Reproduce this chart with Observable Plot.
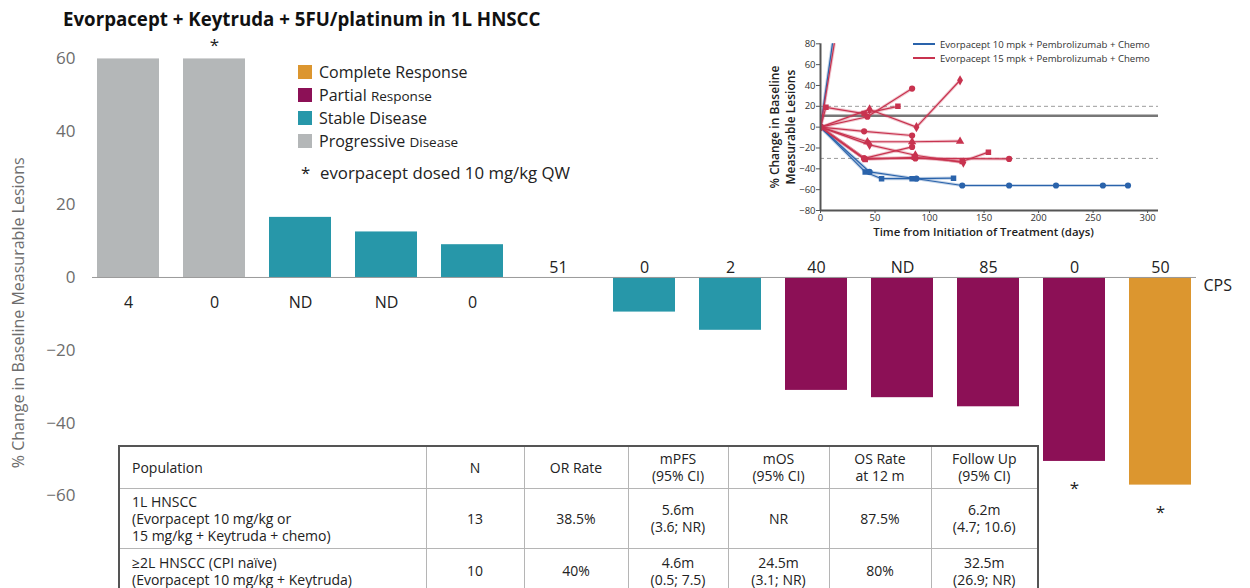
<!DOCTYPE html>
<html><head><meta charset="utf-8">
<script src="https://cdn.jsdelivr.net/npm/d3@7"></script>
<script src="https://cdn.jsdelivr.net/npm/@observablehq/plot@0.6"></script>
<style>
body{margin:0;background:#fff;}
#wrap{position:relative;width:1250px;height:588px;overflow:hidden;font-family:"Open Sans",sans-serif;background:#fff;}
#main{position:absolute;left:0;top:0;}
#title{position:absolute;left:63px;top:6px;font-weight:bold;font-size:18.7px;color:#111;white-space:nowrap;line-height:26px;}
.leg{position:absolute;left:298px;height:20px;display:flex;align-items:center;font-size:16px;color:#222;white-space:nowrap;}
.leg .sw{width:14px;height:14px;margin-right:7px;}
.leg small{font-size:13.5px;}
#inset{position:absolute;left:760px;top:30px;}
.ileg{position:absolute;left:913px;height:14px;display:flex;align-items:center;font-size:9.6px;color:#333;white-space:nowrap;}
.ileg .ln{width:22px;height:2px;margin-right:5px;}
#tbl{position:absolute;left:118px;top:445px;border-collapse:collapse;border:2px solid #555;background:#fff;
 font-family:"Open Sans",sans-serif;font-size:14px;color:#222;table-layout:fixed;width:919px;}
#tbl td{border:1px solid #b5b5b5;text-align:center;vertical-align:middle;padding:0;line-height:17px;}
#tbl td.pop{text-align:left;padding-left:12px;}
</style></head><body><div id="wrap"></div>
<script>
// ---- main waterfall data ----
const change   = [60, 60, 16.5, 12.5, 9, 0, -9.5, -14.5, -31, -33, -35.5, -50.5, -57];
const response = ["PD","PD","SD","SD","SD","SD","SD","SD","PR","PR","PR","PR","CR"];
const cps      = ["4","0","ND","ND","0","51","0","2","40","ND","85","0","50"];
const qw       = [false,true,false,false,false,false,false,false,false,false,false,true,true];
const yTicks   = [-60,-40,-20,0,20,40,60];
const respCodes  = ["CR","PR","SD","PD"];
const respMain   = ["Complete Response","Partial","Stable Disease","Progressive"];
const respSmall  = ["","Response","","Disease"];
const respColors = ["#dc962f","#8c1056","#2797a9","#b4b7b8"];

// ---- inset spider data: [day, % change] ----
const dose10Lines = [
  {sym:"square", pts:[[0,0],[41,-43],[56,-49.5],[84,-49.5],[122,-49]]},
  {sym:"circle", pts:[[0,0],[45,-43],[88,-49.5],[130,-56],[173,-56],[216,-56],[259,-56],[282,-56]]},
  {sym:"circle", pts:[[0,0],[13,95]]}
];
const dose15Lines = [
  {sym:"square",   pts:[[0,0],[5,19],[40,13],[71,20]]},
  {sym:"circle",   pts:[[0,0],[43,10],[84,37]]},
  {sym:"diamond",  pts:[[0,0],[45,17],[88,0],[128,45]]},
  {sym:"circle",   pts:[[0,0],[40,-4],[84,-8]]},
  {sym:"triangle", pts:[[0,0],[43,-14],[84,-14],[128,-13.5]]},
  {sym:"diamond",  pts:[[0,0],[45,-17],[87,-27],[131,-34]]},
  {sym:"circle",   pts:[[0,0],[40,-30],[84,-19]]},
  {sym:"circle",   pts:[[0,0],[40,-30],[87,-30],[173,-30.5]]},
  {sym:"square",   pts:[[0,0],[41,-31],[86,-29],[130,-33],[154,-24]]},
  {sym:"circle",   pts:[[0,0],[15,95]]}
];
const doseNames  = ["Evorpacept 10 mpk + Pembrolizumab + Chemo","Evorpacept 15 mpk + Pembrolizumab + Chemo"];
const doseColors = ["#2a63ab","#c8334f"];
const insetXTicks = [0,50,100,150,200,250,300];
const insetYTicks = [-80,-60,-40,-20,0,20,40,60,80];
const refSolid = [11];
const refDashed = [20,-30];

// ---- table ----
const tableHead = ["Population","N","OR Rate","mPFS\n(95% CI)","mOS\n(95% CI)","OS Rate\nat 12 m","Follow Up\n(95% CI)"];
const tableRows = [
  ["1L HNSCC\n(Evorpacept 10 mg/kg or\n15 mg/kg + Keytruda + chemo)","13","38.5%","5.6m\n(3.6; NR)","NR","87.5%","6.2m\n(4.7; 10.6)"],
  ["≥2L HNSCC (CPI naïve)\n(Evorpacept 10 mg/kg + Keytruda)","10","40%","4.6m\n(0.5; 7.5)","24.5m\n(3.1; NR)","80%","32.5m\n(26.9; NR)"]
];
const colWidths = [307,98,104,100,101,102,107];
const rowHeights = [42,60,46];

const wrap = document.getElementById("wrap");
const colorOf = r => respColors[respCodes.indexOf(r)];
const rows = change.map((v,i)=>({i, v, r:response[i], cps:cps[i], qw:qw[i]}));

const main = Plot.plot({
  width:1250, height:588, marginLeft:72, marginRight:34, marginTop:22, marginBottom:1.4,
  style:{fontFamily:"Open Sans, sans-serif", fontSize:"17px", background:"transparent"},
  x:{type:"band", domain:d3.range(change.length), padding:0.28, axis:null},
  y:{domain:[-85,70], axis:null},
  marks:[
    Plot.axisY({ticks:yTicks, tickSize:0, tickPadding:0, dx:3, fill:"#6d6d6d", fontSize:17, label:null}),
    Plot.barY(rows,{x:"i", y:"v", fill:d=>colorOf(d.r)}),
    Plot.ruleY([0],{insetLeft:20, insetRight:20, stroke:"#9a9a9a", strokeWidth:1}),
    Plot.text(rows.filter(d=>d.v>0),{x:"i", y:()=>0, text:"cps", dy:25, fontSize:16, fill:"#222"}),
    Plot.text(rows.filter(d=>d.v<=0),{x:"i", y:()=>0, text:"cps", dy:-10, fontSize:16, fill:"#222"}),
    Plot.text(rows.filter(d=>d.qw && d.v>0),{x:"i", y:"v", text:()=>"*", dy:-13, fontSize:17, fill:"#222"}),
    Plot.text(rows.filter(d=>d.qw && d.v<0),{x:"i", y:"v", text:()=>"*", dy:27, fontSize:17, fill:"#222"}),
    Plot.text(["CPS"],{frameAnchor:"right", y:()=>0, dx:-13, dy:8, textAnchor:"start", fontSize:16, fill:"#222"}),
    Plot.text(["% Change in Baseline Measurable Lesions"],{frameAnchor:"left", textAnchor:"middle", lineAnchor:"middle",
      rotate:-90, dx:-54, dy:8, fontSize:16, fill:"#6d6d6d"})
  ]
});
main.id = "main";
wrap.appendChild(main);

// title
const title = document.createElement("div");
title.id = "title";
title.textContent = "Evorpacept + Keytruda + 5FU/platinum in 1L HNSCC";
wrap.appendChild(title);

// legend
const legTops = [62,85,108,131];
respCodes.forEach((c,k)=>{
  const d = document.createElement("div");
  d.className = "leg";
  d.style.top = legTops[k]+"px";
  d.innerHTML = `<div class="sw" style="background:${respColors[k]}"></div><span>${respMain[k]}${respSmall[k]?' <small>'+respSmall[k]+'</small>':''}</span>`;
  wrap.appendChild(d);
});
const note = document.createElement("div");
note.className = "leg";
note.style.top = "162px";
note.style.left = "301px";
note.style.fontSize = "16.8px";
note.innerHTML = `<span style="width:19px">*</span><span>evorpacept dosed 10 mg/kg QW</span>`;
wrap.appendChild(note);

// inset
const insetData = [];
[dose10Lines, dose15Lines].forEach((set,g)=>set.forEach((s,k)=>s.pts.forEach(([day,val])=>
  insetData.push({id:g+"-"+k, g, sym:s.sym, day, val, c:doseColors[g]}))));
const inset = Plot.plot({
  width:402, height:215, marginLeft:60, marginRight:4, marginTop:13.3, marginBottom:35,
  style:{fontFamily:"Open Sans, sans-serif", fontSize:"9px", background:"transparent"},
  x:{domain:[0,310], axis:null},
  y:{domain:[-80,80], axis:null},
  marks:[
    Plot.ruleY(refDashed,{stroke:"#9c9c9c", strokeDasharray:"4,3", strokeWidth:1}),
    Plot.ruleY(refSolid,{stroke:"#777", strokeWidth:2.5}),
    Plot.line(insetData,{x:"day", y:"val", z:"id", stroke:"c", strokeWidth:3.2, strokeOpacity:0.28, clip:true}),
    Plot.line(insetData,{x:"day", y:"val", z:"id", stroke:"c", strokeWidth:1.2, clip:true}),
    Plot.dot(insetData,{x:"day", y:"val", symbol:"sym", fill:"c", r:3.1, clip:true}),
    Plot.ruleX([0],{stroke:"#555", strokeWidth:2}),
    Plot.ruleY([-80],{stroke:"#555", strokeWidth:2}),
    Plot.axisX({ticks:insetXTicks, tickSize:3, tickPadding:1, stroke:"#555", fill:"#333", fontSize:9.5, label:null}),
    Plot.axisY({ticks:insetYTicks, tickSize:4, tickPadding:1, stroke:"#555", fill:"#333", fontSize:9.5, label:null}),
    Plot.text(["Time from Initiation of Treatment (days)"],{frameAnchor:"bottom", lineAnchor:"middle", dy:22, dx:-6,
      fontSize:11.4, fontWeight:600, fill:"#222"}),
    Plot.text(["% Change in Baseline\nMeasurable Lesions"],{frameAnchor:"left", textAnchor:"middle", lineAnchor:"middle",
      rotate:-90, dx:-39, fontSize:12, fontWeight:600, fill:"#222", lineHeight:1.38})
  ]
});
inset.id = "inset";
wrap.appendChild(inset);

const iLegTops = [37,51];
doseNames.forEach((n,g)=>{
  const d = document.createElement("div");
  d.className = "ileg";
  d.style.top = iLegTops[g]+"px";
  d.innerHTML = `<div class="ln" style="background:${doseColors[g]}"></div><span>${n}</span>`;
  wrap.appendChild(d);
});

// table
const tbl = document.createElement("table");
tbl.id = "tbl";
const cg = document.createElement("colgroup");
colWidths.forEach(w=>{const c=document.createElement("col"); c.style.width=w+"px"; cg.appendChild(c);});
tbl.appendChild(cg);
[tableHead, ...tableRows].forEach((r,ri)=>{
  const tr = document.createElement("tr");
  tr.style.height = rowHeights[ri]+"px";
  r.forEach((cell,ci)=>{
    const td = document.createElement("td");
    if (ci===0) td.className = "pop";
    td.innerHTML = cell.split("\n").join("<br>");
    tr.appendChild(td);
  });
  tbl.appendChild(tr);
});
wrap.appendChild(tbl);
</script></body></html>
